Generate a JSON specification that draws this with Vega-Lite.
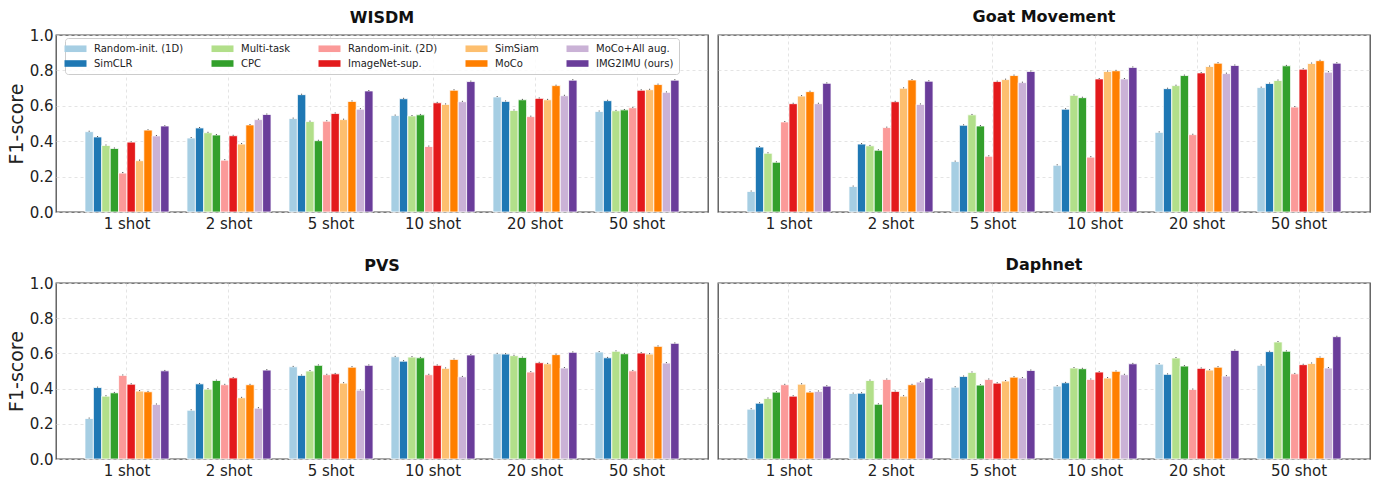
{
  "$schema": "https://vega.github.io/schema/vega-lite/v6.json",
  "padding": {"left": 6, "top": 8, "right": 5, "bottom": 2},
  "background": "white",
  "datasets": {
    "rows": [
      {"d":"WISDM","s":"1 shot","m":"Random-init. (1D)","f":0.454,"e":0.005},
      {"d":"WISDM","s":"1 shot","m":"SimCLR","f":0.424,"e":0.005},
      {"d":"WISDM","s":"1 shot","m":"Multi-task","f":0.376,"e":0.005},
      {"d":"WISDM","s":"1 shot","m":"CPC","f":0.359,"e":0.005},
      {"d":"WISDM","s":"1 shot","m":"Random-init. (2D)","f":0.220,"e":0.006},
      {"d":"WISDM","s":"1 shot","m":"ImageNet-sup.","f":0.395,"e":0.004},
      {"d":"WISDM","s":"1 shot","m":"SimSiam","f":0.290,"e":0.006},
      {"d":"WISDM","s":"1 shot","m":"MoCo","f":0.463,"e":0.004},
      {"d":"WISDM","s":"1 shot","m":"MoCo+All aug.","f":0.430,"e":0.005},
      {"d":"WISDM","s":"1 shot","m":"IMG2IMU (ours)","f":0.486,"e":0.004},
      {"d":"WISDM","s":"2 shot","m":"Random-init. (1D)","f":0.418,"e":0.005},
      {"d":"WISDM","s":"2 shot","m":"SimCLR","f":0.475,"e":0.005},
      {"d":"WISDM","s":"2 shot","m":"Multi-task","f":0.448,"e":0.005},
      {"d":"WISDM","s":"2 shot","m":"CPC","f":0.435,"e":0.005},
      {"d":"WISDM","s":"2 shot","m":"Random-init. (2D)","f":0.293,"e":0.005},
      {"d":"WISDM","s":"2 shot","m":"ImageNet-sup.","f":0.431,"e":0.005},
      {"d":"WISDM","s":"2 shot","m":"SimSiam","f":0.384,"e":0.005},
      {"d":"WISDM","s":"2 shot","m":"MoCo","f":0.492,"e":0.005},
      {"d":"WISDM","s":"2 shot","m":"MoCo+All aug.","f":0.522,"e":0.005},
      {"d":"WISDM","s":"2 shot","m":"IMG2IMU (ours)","f":0.551,"e":0.005},
      {"d":"WISDM","s":"5 shot","m":"Random-init. (1D)","f":0.528,"e":0.005},
      {"d":"WISDM","s":"5 shot","m":"SimCLR","f":0.663,"e":0.005},
      {"d":"WISDM","s":"5 shot","m":"Multi-task","f":0.511,"e":0.005},
      {"d":"WISDM","s":"5 shot","m":"CPC","f":0.403,"e":0.005},
      {"d":"WISDM","s":"5 shot","m":"Random-init. (2D)","f":0.513,"e":0.005},
      {"d":"WISDM","s":"5 shot","m":"ImageNet-sup.","f":0.557,"e":0.005},
      {"d":"WISDM","s":"5 shot","m":"SimSiam","f":0.522,"e":0.005},
      {"d":"WISDM","s":"5 shot","m":"MoCo","f":0.625,"e":0.005},
      {"d":"WISDM","s":"5 shot","m":"MoCo+All aug.","f":0.581,"e":0.005},
      {"d":"WISDM","s":"5 shot","m":"IMG2IMU (ours)","f":0.684,"e":0.005},
      {"d":"WISDM","s":"10 shot","m":"Random-init. (1D)","f":0.545,"e":0.005},
      {"d":"WISDM","s":"10 shot","m":"SimCLR","f":0.640,"e":0.005},
      {"d":"WISDM","s":"10 shot","m":"Multi-task","f":0.543,"e":0.005},
      {"d":"WISDM","s":"10 shot","m":"CPC","f":0.549,"e":0.005},
      {"d":"WISDM","s":"10 shot","m":"Random-init. (2D)","f":0.370,"e":0.005},
      {"d":"WISDM","s":"10 shot","m":"ImageNet-sup.","f":0.617,"e":0.005},
      {"d":"WISDM","s":"10 shot","m":"SimSiam","f":0.608,"e":0.005},
      {"d":"WISDM","s":"10 shot","m":"MoCo","f":0.688,"e":0.005},
      {"d":"WISDM","s":"10 shot","m":"MoCo+All aug.","f":0.623,"e":0.005},
      {"d":"WISDM","s":"10 shot","m":"IMG2IMU (ours)","f":0.737,"e":0.005},
      {"d":"WISDM","s":"20 shot","m":"Random-init. (1D)","f":0.650,"e":0.005},
      {"d":"WISDM","s":"20 shot","m":"SimCLR","f":0.625,"e":0.005},
      {"d":"WISDM","s":"20 shot","m":"Multi-task","f":0.574,"e":0.005},
      {"d":"WISDM","s":"20 shot","m":"CPC","f":0.634,"e":0.005},
      {"d":"WISDM","s":"20 shot","m":"Random-init. (2D)","f":0.539,"e":0.005},
      {"d":"WISDM","s":"20 shot","m":"ImageNet-sup.","f":0.642,"e":0.005},
      {"d":"WISDM","s":"20 shot","m":"SimSiam","f":0.634,"e":0.005},
      {"d":"WISDM","s":"20 shot","m":"MoCo","f":0.714,"e":0.005},
      {"d":"WISDM","s":"20 shot","m":"MoCo+All aug.","f":0.657,"e":0.005},
      {"d":"WISDM","s":"20 shot","m":"IMG2IMU (ours)","f":0.745,"e":0.005},
      {"d":"WISDM","s":"50 shot","m":"Random-init. (1D)","f":0.568,"e":0.005},
      {"d":"WISDM","s":"50 shot","m":"SimCLR","f":0.629,"e":0.005},
      {"d":"WISDM","s":"50 shot","m":"Multi-task","f":0.572,"e":0.005},
      {"d":"WISDM","s":"50 shot","m":"CPC","f":0.577,"e":0.005},
      {"d":"WISDM","s":"50 shot","m":"Random-init. (2D)","f":0.589,"e":0.005},
      {"d":"WISDM","s":"50 shot","m":"ImageNet-sup.","f":0.688,"e":0.005},
      {"d":"WISDM","s":"50 shot","m":"SimSiam","f":0.691,"e":0.005},
      {"d":"WISDM","s":"50 shot","m":"MoCo","f":0.720,"e":0.005},
      {"d":"WISDM","s":"50 shot","m":"MoCo+All aug.","f":0.676,"e":0.005},
      {"d":"WISDM","s":"50 shot","m":"IMG2IMU (ours)","f":0.745,"e":0.005},

      {"d":"Goat Movement","s":"1 shot","m":"Random-init. (1D)","f":0.116,"e":0.005},
      {"d":"Goat Movement","s":"1 shot","m":"SimCLR","f":0.367,"e":0.005},
      {"d":"Goat Movement","s":"1 shot","m":"Multi-task","f":0.332,"e":0.005},
      {"d":"Goat Movement","s":"1 shot","m":"CPC","f":0.281,"e":0.005},
      {"d":"Goat Movement","s":"1 shot","m":"Random-init. (2D)","f":0.509,"e":0.005},
      {"d":"Goat Movement","s":"1 shot","m":"ImageNet-sup.","f":0.612,"e":0.005},
      {"d":"Goat Movement","s":"1 shot","m":"SimSiam","f":0.655,"e":0.005},
      {"d":"Goat Movement","s":"1 shot","m":"MoCo","f":0.680,"e":0.005},
      {"d":"Goat Movement","s":"1 shot","m":"MoCo+All aug.","f":0.612,"e":0.005},
      {"d":"Goat Movement","s":"1 shot","m":"IMG2IMU (ours)","f":0.727,"e":0.005},
      {"d":"Goat Movement","s":"2 shot","m":"Random-init. (1D)","f":0.144,"e":0.005},
      {"d":"Goat Movement","s":"2 shot","m":"SimCLR","f":0.384,"e":0.005},
      {"d":"Goat Movement","s":"2 shot","m":"Multi-task","f":0.374,"e":0.005},
      {"d":"Goat Movement","s":"2 shot","m":"CPC","f":0.349,"e":0.005},
      {"d":"Goat Movement","s":"2 shot","m":"Random-init. (2D)","f":0.477,"e":0.005},
      {"d":"Goat Movement","s":"2 shot","m":"ImageNet-sup.","f":0.623,"e":0.005},
      {"d":"Goat Movement","s":"2 shot","m":"SimSiam","f":0.699,"e":0.005},
      {"d":"Goat Movement","s":"2 shot","m":"MoCo","f":0.746,"e":0.005},
      {"d":"Goat Movement","s":"2 shot","m":"MoCo+All aug.","f":0.608,"e":0.005},
      {"d":"Goat Movement","s":"2 shot","m":"IMG2IMU (ours)","f":0.739,"e":0.005},
      {"d":"Goat Movement","s":"5 shot","m":"Random-init. (1D)","f":0.285,"e":0.005},
      {"d":"Goat Movement","s":"5 shot","m":"SimCLR","f":0.490,"e":0.005},
      {"d":"Goat Movement","s":"5 shot","m":"Multi-task","f":0.549,"e":0.005},
      {"d":"Goat Movement","s":"5 shot","m":"CPC","f":0.486,"e":0.005},
      {"d":"Goat Movement","s":"5 shot","m":"Random-init. (2D)","f":0.315,"e":0.005},
      {"d":"Goat Movement","s":"5 shot","m":"ImageNet-sup.","f":0.737,"e":0.005},
      {"d":"Goat Movement","s":"5 shot","m":"SimSiam","f":0.748,"e":0.005},
      {"d":"Goat Movement","s":"5 shot","m":"MoCo","f":0.771,"e":0.005},
      {"d":"Goat Movement","s":"5 shot","m":"MoCo+All aug.","f":0.731,"e":0.005},
      {"d":"Goat Movement","s":"5 shot","m":"IMG2IMU (ours)","f":0.794,"e":0.005},
      {"d":"Goat Movement","s":"10 shot","m":"Random-init. (1D)","f":0.264,"e":0.005},
      {"d":"Goat Movement","s":"10 shot","m":"SimCLR","f":0.581,"e":0.005},
      {"d":"Goat Movement","s":"10 shot","m":"Multi-task","f":0.659,"e":0.005},
      {"d":"Goat Movement","s":"10 shot","m":"CPC","f":0.646,"e":0.005},
      {"d":"Goat Movement","s":"10 shot","m":"Random-init. (2D)","f":0.310,"e":0.005},
      {"d":"Goat Movement","s":"10 shot","m":"ImageNet-sup.","f":0.752,"e":0.005},
      {"d":"Goat Movement","s":"10 shot","m":"SimSiam","f":0.794,"e":0.005},
      {"d":"Goat Movement","s":"10 shot","m":"MoCo","f":0.798,"e":0.005},
      {"d":"Goat Movement","s":"10 shot","m":"MoCo+All aug.","f":0.752,"e":0.005},
      {"d":"Goat Movement","s":"10 shot","m":"IMG2IMU (ours)","f":0.817,"e":0.005},
      {"d":"Goat Movement","s":"20 shot","m":"Random-init. (1D)","f":0.450,"e":0.005},
      {"d":"Goat Movement","s":"20 shot","m":"SimCLR","f":0.697,"e":0.005},
      {"d":"Goat Movement","s":"20 shot","m":"Multi-task","f":0.714,"e":0.005},
      {"d":"Goat Movement","s":"20 shot","m":"CPC","f":0.771,"e":0.005},
      {"d":"Goat Movement","s":"20 shot","m":"Random-init. (2D)","f":0.437,"e":0.005},
      {"d":"Goat Movement","s":"20 shot","m":"ImageNet-sup.","f":0.786,"e":0.005},
      {"d":"Goat Movement","s":"20 shot","m":"SimSiam","f":0.822,"e":0.005},
      {"d":"Goat Movement","s":"20 shot","m":"MoCo","f":0.841,"e":0.005},
      {"d":"Goat Movement","s":"20 shot","m":"MoCo+All aug.","f":0.782,"e":0.005},
      {"d":"Goat Movement","s":"20 shot","m":"IMG2IMU (ours)","f":0.828,"e":0.005},
      {"d":"Goat Movement","s":"50 shot","m":"Random-init. (1D)","f":0.703,"e":0.005},
      {"d":"Goat Movement","s":"50 shot","m":"SimCLR","f":0.726,"e":0.005},
      {"d":"Goat Movement","s":"50 shot","m":"Multi-task","f":0.743,"e":0.005},
      {"d":"Goat Movement","s":"50 shot","m":"CPC","f":0.826,"e":0.005},
      {"d":"Goat Movement","s":"50 shot","m":"Random-init. (2D)","f":0.593,"e":0.005},
      {"d":"Goat Movement","s":"50 shot","m":"ImageNet-sup.","f":0.807,"e":0.005},
      {"d":"Goat Movement","s":"50 shot","m":"SimSiam","f":0.839,"e":0.005},
      {"d":"Goat Movement","s":"50 shot","m":"MoCo","f":0.855,"e":0.005},
      {"d":"Goat Movement","s":"50 shot","m":"MoCo+All aug.","f":0.790,"e":0.005},
      {"d":"Goat Movement","s":"50 shot","m":"IMG2IMU (ours)","f":0.841,"e":0.005},

      {"d":"PVS","s":"1 shot","m":"Random-init. (1D)","f":0.230,"e":0.005},
      {"d":"PVS","s":"1 shot","m":"SimCLR","f":0.406,"e":0.005},
      {"d":"PVS","s":"1 shot","m":"Multi-task","f":0.357,"e":0.005},
      {"d":"PVS","s":"1 shot","m":"CPC","f":0.376,"e":0.005},
      {"d":"PVS","s":"1 shot","m":"Random-init. (2D)","f":0.475,"e":0.005},
      {"d":"PVS","s":"1 shot","m":"ImageNet-sup.","f":0.425,"e":0.005},
      {"d":"PVS","s":"1 shot","m":"SimSiam","f":0.386,"e":0.005},
      {"d":"PVS","s":"1 shot","m":"MoCo","f":0.382,"e":0.005},
      {"d":"PVS","s":"1 shot","m":"MoCo+All aug.","f":0.310,"e":0.005},
      {"d":"PVS","s":"1 shot","m":"IMG2IMU (ours)","f":0.501,"e":0.005},
      {"d":"PVS","s":"2 shot","m":"Random-init. (1D)","f":0.277,"e":0.005},
      {"d":"PVS","s":"2 shot","m":"SimCLR","f":0.427,"e":0.005},
      {"d":"PVS","s":"2 shot","m":"Multi-task","f":0.397,"e":0.005},
      {"d":"PVS","s":"2 shot","m":"CPC","f":0.446,"e":0.005},
      {"d":"PVS","s":"2 shot","m":"Random-init. (2D)","f":0.422,"e":0.005},
      {"d":"PVS","s":"2 shot","m":"ImageNet-sup.","f":0.461,"e":0.005},
      {"d":"PVS","s":"2 shot","m":"SimSiam","f":0.348,"e":0.005},
      {"d":"PVS","s":"2 shot","m":"MoCo","f":0.422,"e":0.005},
      {"d":"PVS","s":"2 shot","m":"MoCo+All aug.","f":0.289,"e":0.005},
      {"d":"PVS","s":"2 shot","m":"IMG2IMU (ours)","f":0.505,"e":0.005},
      {"d":"PVS","s":"5 shot","m":"Random-init. (1D)","f":0.524,"e":0.005},
      {"d":"PVS","s":"5 shot","m":"SimCLR","f":0.475,"e":0.005},
      {"d":"PVS","s":"5 shot","m":"Multi-task","f":0.500,"e":0.005},
      {"d":"PVS","s":"5 shot","m":"CPC","f":0.532,"e":0.005},
      {"d":"PVS","s":"5 shot","m":"Random-init. (2D)","f":0.479,"e":0.005},
      {"d":"PVS","s":"5 shot","m":"ImageNet-sup.","f":0.484,"e":0.005},
      {"d":"PVS","s":"5 shot","m":"SimSiam","f":0.431,"e":0.005},
      {"d":"PVS","s":"5 shot","m":"MoCo","f":0.522,"e":0.005},
      {"d":"PVS","s":"5 shot","m":"MoCo+All aug.","f":0.391,"e":0.005},
      {"d":"PVS","s":"5 shot","m":"IMG2IMU (ours)","f":0.532,"e":0.005},
      {"d":"PVS","s":"10 shot","m":"Random-init. (1D)","f":0.581,"e":0.005},
      {"d":"PVS","s":"10 shot","m":"SimCLR","f":0.556,"e":0.005},
      {"d":"PVS","s":"10 shot","m":"Multi-task","f":0.579,"e":0.005},
      {"d":"PVS","s":"10 shot","m":"CPC","f":0.575,"e":0.005},
      {"d":"PVS","s":"10 shot","m":"Random-init. (2D)","f":0.479,"e":0.005},
      {"d":"PVS","s":"10 shot","m":"ImageNet-sup.","f":0.532,"e":0.005},
      {"d":"PVS","s":"10 shot","m":"SimSiam","f":0.515,"e":0.005},
      {"d":"PVS","s":"10 shot","m":"MoCo","f":0.566,"e":0.005},
      {"d":"PVS","s":"10 shot","m":"MoCo+All aug.","f":0.467,"e":0.005},
      {"d":"PVS","s":"10 shot","m":"IMG2IMU (ours)","f":0.591,"e":0.005},
      {"d":"PVS","s":"20 shot","m":"Random-init. (1D)","f":0.598,"e":0.005},
      {"d":"PVS","s":"20 shot","m":"SimCLR","f":0.596,"e":0.005},
      {"d":"PVS","s":"20 shot","m":"Multi-task","f":0.587,"e":0.005},
      {"d":"PVS","s":"20 shot","m":"CPC","f":0.577,"e":0.005},
      {"d":"PVS","s":"20 shot","m":"Random-init. (2D)","f":0.494,"e":0.005},
      {"d":"PVS","s":"20 shot","m":"ImageNet-sup.","f":0.547,"e":0.005},
      {"d":"PVS","s":"20 shot","m":"SimSiam","f":0.541,"e":0.005},
      {"d":"PVS","s":"20 shot","m":"MoCo","f":0.593,"e":0.005},
      {"d":"PVS","s":"20 shot","m":"MoCo+All aug.","f":0.517,"e":0.005},
      {"d":"PVS","s":"20 shot","m":"IMG2IMU (ours)","f":0.606,"e":0.005},
      {"d":"PVS","s":"50 shot","m":"Random-init. (1D)","f":0.608,"e":0.005},
      {"d":"PVS","s":"50 shot","m":"SimCLR","f":0.575,"e":0.005},
      {"d":"PVS","s":"50 shot","m":"Multi-task","f":0.612,"e":0.005},
      {"d":"PVS","s":"50 shot","m":"CPC","f":0.598,"e":0.005},
      {"d":"PVS","s":"50 shot","m":"Random-init. (2D)","f":0.501,"e":0.005},
      {"d":"PVS","s":"50 shot","m":"ImageNet-sup.","f":0.602,"e":0.005},
      {"d":"PVS","s":"50 shot","m":"SimSiam","f":0.596,"e":0.005},
      {"d":"PVS","s":"50 shot","m":"MoCo","f":0.640,"e":0.005},
      {"d":"PVS","s":"50 shot","m":"MoCo+All aug.","f":0.545,"e":0.005},
      {"d":"PVS","s":"50 shot","m":"IMG2IMU (ours)","f":0.657,"e":0.005},

      {"d":"Daphnet","s":"1 shot","m":"Random-init. (1D)","f":0.283,"e":0.005},
      {"d":"Daphnet","s":"1 shot","m":"SimCLR","f":0.317,"e":0.005},
      {"d":"Daphnet","s":"1 shot","m":"Multi-task","f":0.344,"e":0.005},
      {"d":"Daphnet","s":"1 shot","m":"CPC","f":0.380,"e":0.005},
      {"d":"Daphnet","s":"1 shot","m":"Random-init. (2D)","f":0.422,"e":0.005},
      {"d":"Daphnet","s":"1 shot","m":"ImageNet-sup.","f":0.357,"e":0.005},
      {"d":"Daphnet","s":"1 shot","m":"SimSiam","f":0.425,"e":0.005},
      {"d":"Daphnet","s":"1 shot","m":"MoCo","f":0.380,"e":0.005},
      {"d":"Daphnet","s":"1 shot","m":"MoCo+All aug.","f":0.384,"e":0.005},
      {"d":"Daphnet","s":"1 shot","m":"IMG2IMU (ours)","f":0.414,"e":0.005},
      {"d":"Daphnet","s":"2 shot","m":"Random-init. (1D)","f":0.372,"e":0.005},
      {"d":"Daphnet","s":"2 shot","m":"SimCLR","f":0.374,"e":0.005},
      {"d":"Daphnet","s":"2 shot","m":"Multi-task","f":0.446,"e":0.005},
      {"d":"Daphnet","s":"2 shot","m":"CPC","f":0.311,"e":0.005},
      {"d":"Daphnet","s":"2 shot","m":"Random-init. (2D)","f":0.452,"e":0.005},
      {"d":"Daphnet","s":"2 shot","m":"ImageNet-sup.","f":0.384,"e":0.005},
      {"d":"Daphnet","s":"2 shot","m":"SimSiam","f":0.357,"e":0.005},
      {"d":"Daphnet","s":"2 shot","m":"MoCo","f":0.422,"e":0.005},
      {"d":"Daphnet","s":"2 shot","m":"MoCo+All aug.","f":0.437,"e":0.005},
      {"d":"Daphnet","s":"2 shot","m":"IMG2IMU (ours)","f":0.460,"e":0.005},
      {"d":"Daphnet","s":"5 shot","m":"Random-init. (1D)","f":0.408,"e":0.005},
      {"d":"Daphnet","s":"5 shot","m":"SimCLR","f":0.469,"e":0.005},
      {"d":"Daphnet","s":"5 shot","m":"Multi-task","f":0.492,"e":0.005},
      {"d":"Daphnet","s":"5 shot","m":"CPC","f":0.420,"e":0.005},
      {"d":"Daphnet","s":"5 shot","m":"Random-init. (2D)","f":0.452,"e":0.005},
      {"d":"Daphnet","s":"5 shot","m":"ImageNet-sup.","f":0.431,"e":0.005},
      {"d":"Daphnet","s":"5 shot","m":"SimSiam","f":0.443,"e":0.005},
      {"d":"Daphnet","s":"5 shot","m":"MoCo","f":0.465,"e":0.005},
      {"d":"Daphnet","s":"5 shot","m":"MoCo+All aug.","f":0.460,"e":0.005},
      {"d":"Daphnet","s":"5 shot","m":"IMG2IMU (ours)","f":0.503,"e":0.005},
      {"d":"Daphnet","s":"10 shot","m":"Random-init. (1D)","f":0.414,"e":0.005},
      {"d":"Daphnet","s":"10 shot","m":"SimCLR","f":0.433,"e":0.005},
      {"d":"Daphnet","s":"10 shot","m":"Multi-task","f":0.517,"e":0.005},
      {"d":"Daphnet","s":"10 shot","m":"CPC","f":0.513,"e":0.005},
      {"d":"Daphnet","s":"10 shot","m":"Random-init. (2D)","f":0.452,"e":0.005},
      {"d":"Daphnet","s":"10 shot","m":"ImageNet-sup.","f":0.494,"e":0.005},
      {"d":"Daphnet","s":"10 shot","m":"SimSiam","f":0.460,"e":0.005},
      {"d":"Daphnet","s":"10 shot","m":"MoCo","f":0.498,"e":0.005},
      {"d":"Daphnet","s":"10 shot","m":"MoCo+All aug.","f":0.479,"e":0.005},
      {"d":"Daphnet","s":"10 shot","m":"IMG2IMU (ours)","f":0.541,"e":0.005},
      {"d":"Daphnet","s":"20 shot","m":"Random-init. (1D)","f":0.539,"e":0.005},
      {"d":"Daphnet","s":"20 shot","m":"SimCLR","f":0.481,"e":0.005},
      {"d":"Daphnet","s":"20 shot","m":"Multi-task","f":0.574,"e":0.005},
      {"d":"Daphnet","s":"20 shot","m":"CPC","f":0.528,"e":0.005},
      {"d":"Daphnet","s":"20 shot","m":"Random-init. (2D)","f":0.395,"e":0.005},
      {"d":"Daphnet","s":"20 shot","m":"ImageNet-sup.","f":0.515,"e":0.005},
      {"d":"Daphnet","s":"20 shot","m":"SimSiam","f":0.505,"e":0.005},
      {"d":"Daphnet","s":"20 shot","m":"MoCo","f":0.522,"e":0.005},
      {"d":"Daphnet","s":"20 shot","m":"MoCo+All aug.","f":0.471,"e":0.005},
      {"d":"Daphnet","s":"20 shot","m":"IMG2IMU (ours)","f":0.617,"e":0.005},
      {"d":"Daphnet","s":"50 shot","m":"Random-init. (1D)","f":0.532,"e":0.005},
      {"d":"Daphnet","s":"50 shot","m":"SimCLR","f":0.610,"e":0.005},
      {"d":"Daphnet","s":"50 shot","m":"Multi-task","f":0.665,"e":0.005},
      {"d":"Daphnet","s":"50 shot","m":"CPC","f":0.612,"e":0.005},
      {"d":"Daphnet","s":"50 shot","m":"Random-init. (2D)","f":0.484,"e":0.005},
      {"d":"Daphnet","s":"50 shot","m":"ImageNet-sup.","f":0.536,"e":0.005},
      {"d":"Daphnet","s":"50 shot","m":"SimSiam","f":0.543,"e":0.005},
      {"d":"Daphnet","s":"50 shot","m":"MoCo","f":0.577,"e":0.005},
      {"d":"Daphnet","s":"50 shot","m":"MoCo+All aug.","f":0.517,"e":0.005},
      {"d":"Daphnet","s":"50 shot","m":"IMG2IMU (ours)","f":0.695,"e":0.005}
    ]
  },
  "vconcat": [
    {
      "hconcat": [
        {
          "title": {"text": "WISDM", "offset": 2},
          "width": 652, "height": 177,
          "data": {"name": "rows"},
          "transform": [{"filter": "datum.d === 'WISDM'"}, {"calculate": "datum.f + datum.e", "as": "hi"}],
          "encoding": {
            "x": {"field": "s", "type": "nominal", "scale": {"domain": ["1 shot","2 shot","5 shot","10 shot","20 shot","50 shot"], "paddingInner": 0.176, "paddingOuter": 0.284}, "axis": {"title": null}},
            "xOffset": {"field": "m", "type": "nominal", "scale": {"domain": ["Random-init. (1D)","SimCLR","Multi-task","CPC","Random-init. (2D)","ImageNet-sup.","SimSiam","MoCo","MoCo+All aug.","IMG2IMU (ours)"], "paddingInner": 0, "paddingOuter": 0}},
            "y": {"field": "f", "type": "quantitative", "scale": {"domain": [0, 1], "nice": false}, "axis": {"title": "F1-score", "values": [0,0.2,0.4,0.6,0.8,1.0], "format": ".1f", "labelOverlap": false}}
          },
          "layer": [
            {
              "mark": {"type": "bar", "stroke": "white", "strokeWidth": 0.8},
              "encoding": {
                "color": {"field": "m", "type": "nominal", "scale": {"domain": ["Random-init. (1D)","SimCLR","Multi-task","CPC","Random-init. (2D)","ImageNet-sup.","SimSiam","MoCo","MoCo+All aug.","IMG2IMU (ours)"], "range": ["#a6cee3","#1f78b4","#b2df8a","#33a02c","#fb9a99","#e31a1c","#fdbf6f","#ff7f00","#cab2d6","#6a3d9a"]},
                  "legend": {"orient": "none", "legendX": 9, "legendY": 3, "columns": 5, "title": null, "symbolType": "M-2,-0.6H2V0.6H-2Z", "symbolSize": 121, "symbolStrokeWidth": 0, "labelFontSize": 10, "labelFont": "DejaVu Sans", "labelColor": "#222", "columnPadding": 27, "rowPadding": 4, "padding": 5, "strokeColor": "#cccccc", "fillColor": "rgba(255,255,255,0.85)", "cornerRadius": 3, "labelOffset": 13, "labelLimit": 0}}
              }
            },
            {
              "mark": {"type": "rule", "color": "#333333", "strokeWidth": 1},
              "encoding": {"y2": {"field": "hi"}}
            }
          ]
        },
        {
          "title": {"text": "Goat Movement"},
          "width": 652, "height": 177,
          "data": {"name": "rows"},
          "transform": [{"filter": "datum.d === 'Goat Movement'"}, {"calculate": "datum.f + datum.e", "as": "hi"}],
          "encoding": {
            "x": {"field": "s", "type": "nominal", "scale": {"domain": ["1 shot","2 shot","5 shot","10 shot","20 shot","50 shot"], "paddingInner": 0.176, "paddingOuter": 0.284}, "axis": {"title": null}},
            "xOffset": {"field": "m", "type": "nominal", "scale": {"domain": ["Random-init. (1D)","SimCLR","Multi-task","CPC","Random-init. (2D)","ImageNet-sup.","SimSiam","MoCo","MoCo+All aug.","IMG2IMU (ours)"], "paddingInner": 0, "paddingOuter": 0}},
            "y": {"field": "f", "type": "quantitative", "scale": {"domain": [0, 1], "nice": false}, "axis": {"title": null, "labels": false, "values": [0,0.2,0.4,0.6,0.8,1.0]}}
          },
          "layer": [
            {
              "mark": {"type": "bar", "stroke": "white", "strokeWidth": 0.8},
              "encoding": {
                "color": {"field": "m", "type": "nominal", "scale": {"domain": ["Random-init. (1D)","SimCLR","Multi-task","CPC","Random-init. (2D)","ImageNet-sup.","SimSiam","MoCo","MoCo+All aug.","IMG2IMU (ours)"], "range": ["#a6cee3","#1f78b4","#b2df8a","#33a02c","#fb9a99","#e31a1c","#fdbf6f","#ff7f00","#cab2d6","#6a3d9a"]}, "legend": null}
              }
            },
            {
              "mark": {"type": "rule", "color": "#333333", "strokeWidth": 1},
              "encoding": {"y2": {"field": "hi"}}
            }
          ]
        }
      ]
    },
    {
      "hconcat": [
        {
          "title": {"text": "PVS", "offset": 2},
          "width": 652, "height": 176,
          "data": {"name": "rows"},
          "transform": [{"filter": "datum.d === 'PVS'"}, {"calculate": "datum.f + datum.e", "as": "hi"}],
          "encoding": {
            "x": {"field": "s", "type": "nominal", "scale": {"domain": ["1 shot","2 shot","5 shot","10 shot","20 shot","50 shot"], "paddingInner": 0.176, "paddingOuter": 0.284}, "axis": {"title": null}},
            "xOffset": {"field": "m", "type": "nominal", "scale": {"domain": ["Random-init. (1D)","SimCLR","Multi-task","CPC","Random-init. (2D)","ImageNet-sup.","SimSiam","MoCo","MoCo+All aug.","IMG2IMU (ours)"], "paddingInner": 0, "paddingOuter": 0}},
            "y": {"field": "f", "type": "quantitative", "scale": {"domain": [0, 1], "nice": false}, "axis": {"title": "F1-score", "values": [0,0.2,0.4,0.6,0.8,1.0], "format": ".1f", "labelOverlap": false}}
          },
          "layer": [
            {
              "mark": {"type": "bar", "stroke": "white", "strokeWidth": 0.8},
              "encoding": {
                "color": {"field": "m", "type": "nominal", "scale": {"domain": ["Random-init. (1D)","SimCLR","Multi-task","CPC","Random-init. (2D)","ImageNet-sup.","SimSiam","MoCo","MoCo+All aug.","IMG2IMU (ours)"], "range": ["#a6cee3","#1f78b4","#b2df8a","#33a02c","#fb9a99","#e31a1c","#fdbf6f","#ff7f00","#cab2d6","#6a3d9a"]}, "legend": null}
              }
            },
            {
              "mark": {"type": "rule", "color": "#333333", "strokeWidth": 1},
              "encoding": {"y2": {"field": "hi"}}
            }
          ]
        },
        {
          "title": {"text": "Daphnet"},
          "width": 652, "height": 176,
          "data": {"name": "rows"},
          "transform": [{"filter": "datum.d === 'Daphnet'"}, {"calculate": "datum.f + datum.e", "as": "hi"}],
          "encoding": {
            "x": {"field": "s", "type": "nominal", "scale": {"domain": ["1 shot","2 shot","5 shot","10 shot","20 shot","50 shot"], "paddingInner": 0.176, "paddingOuter": 0.284}, "axis": {"title": null}},
            "xOffset": {"field": "m", "type": "nominal", "scale": {"domain": ["Random-init. (1D)","SimCLR","Multi-task","CPC","Random-init. (2D)","ImageNet-sup.","SimSiam","MoCo","MoCo+All aug.","IMG2IMU (ours)"], "paddingInner": 0, "paddingOuter": 0}},
            "y": {"field": "f", "type": "quantitative", "scale": {"domain": [0, 1], "nice": false}, "axis": {"title": null, "labels": false, "values": [0,0.2,0.4,0.6,0.8,1.0]}}
          },
          "layer": [
            {
              "mark": {"type": "bar", "stroke": "white", "strokeWidth": 0.8},
              "encoding": {
                "color": {"field": "m", "type": "nominal", "scale": {"domain": ["Random-init. (1D)","SimCLR","Multi-task","CPC","Random-init. (2D)","ImageNet-sup.","SimSiam","MoCo","MoCo+All aug.","IMG2IMU (ours)"], "range": ["#a6cee3","#1f78b4","#b2df8a","#33a02c","#fb9a99","#e31a1c","#fdbf6f","#ff7f00","#cab2d6","#6a3d9a"]}, "legend": null}
              }
            },
            {
              "mark": {"type": "rule", "color": "#333333", "strokeWidth": 1},
              "encoding": {"y2": {"field": "hi"}}
            }
          ]
        }
      ]
    }
  ],
  "spacing": 24,
  "resolve": {"legend": {"color": "independent"}},
  "config": {
    "font": "DejaVu Sans",
    "concat": {"spacing": 8},
    "view": {"stroke": "#4d4d4d", "strokeWidth": 1.3},
    "title": {"fontSize": 16, "fontWeight": "bold", "color": "#111111", "anchor": "middle", "offset": 10, "frame": "group"},
    "axis": {"grid": true, "gridColor": "#dddddd", "gridDash": [3, 3], "gridWidth": 0.8, "ticks": false, "domain": false, "labelColor": "#222222", "titleColor": "#222222"},
    "axisX": {"labelAngle": 0, "labelFontSize": 15, "labelPadding": 4, "bandPosition": 0.5},
    "axisY": {"labelFontSize": 15, "labelPadding": 3, "titleFontSize": 19, "titleFontWeight": "normal", "titlePadding": 3}
  }
}
